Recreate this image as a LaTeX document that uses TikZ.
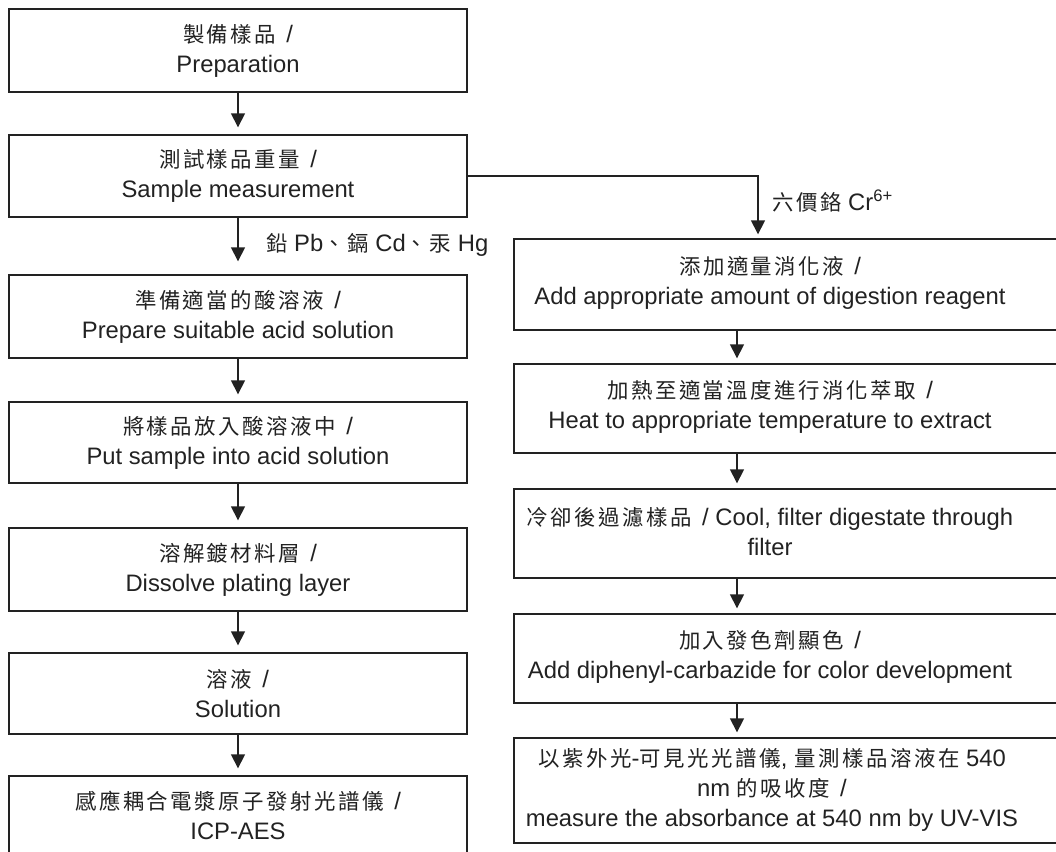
\documentclass[tikz,border=0pt]{standalone}
\usepackage{fontspec}
\setmainfont{Liberation Sans}
\newfontfamily\cjk{Noto Sans CJK TC}[Scale=0.9,LetterSpace=12]
\usetikzlibrary{arrows.meta}
\newcommand{\zh}[1]{{\cjk #1}}
\newcommand{\zsl}{\hspace{10pt}/}
\definecolor{ink}{HTML}{222222}
\begin{document}
\begin{tikzpicture}[x=1pt,y=-1pt,
 lbox/.style={draw=ink, line width=1.4pt, minimum width=458pt, inner sep=0pt, align=center, text=ink, font=\fontsize{23.8}{30}\selectfont},
 rbox/.style={draw=ink, line width=1.4pt, minimum width=550pt, inner sep=0pt},
 txt/.style={align=center, text=ink, inner sep=0pt, font=\fontsize{23.8}{30}\selectfont},
 flow/.style={draw=ink, line width=1.6pt, -{Triangle[width=14pt,length=14pt]}},
 ]
\useasboundingbox (0,0) rectangle (1056,851);
\clip (0,0) rectangle (1056,851);
\fill[white] (0,0) rectangle (1056,851);

% left column
\node[lbox, minimum height=83pt] (l1) at (238,50.5) {\zh{製備樣品}\zsl\\Preparation};
\node[lbox, minimum height=82pt] (l2) at (238,176) {\zh{測試樣品重量}\zsl\\Sample measurement};
\node[lbox, minimum height=83pt] (l3) at (238,316.5) {\zh{準備適當的酸溶液}\zsl\\Prepare suitable acid solution};
\node[lbox, minimum height=81pt] (l4) at (238,442.5) {\zh{將樣品放入酸溶液中}\zsl\\Put sample into acid solution};
\node[lbox, minimum height=83pt] (l5) at (238,569.5) {\zh{溶解鍍材料層}\zsl\\Dissolve plating layer};
\node[lbox, minimum height=81pt] (l6) at (238,693.5) {\zh{溶液}\zsl\\Solution};
\node[lbox, minimum height=86pt] (l7) at (238,819) {};
\node[txt] (l7t) at (238,815) {\zh{感應耦合電漿原子發射光譜儀}\zsl\\ICP-AES};

% right column
\node[rbox, minimum height=91pt] (r1) at (789,284.5) {};
\node[txt] (r1t) at (770,283) {\zh{添加適量消化液}\zsl\\Add appropriate amount of digestion reagent};
\node[rbox, minimum height=89pt] (r2) at (789,408.5) {};
\node[txt] (r2t) at (770,407) {\zh{加熱至適當溫度進行消化萃取}\zsl\\Heat to appropriate temperature to extract};
\node[rbox, minimum height=89pt] (r3) at (789,533.5) {};
\node[txt] (r3t) at (770,532) {\zh{冷卻後過濾樣品}\zsl{} Cool, filter digestate through\\filter};
\node[rbox, minimum height=89pt] (r4) at (789,658.5) {};
\node[txt] (r4t) at (770,657) {\zh{加入發色劑顯色}\zsl\\Add diphenyl-carbazide for color development};
\node[rbox, minimum height=105pt] (r5) at (789,790.5) {};
\node[txt] (r5t) at (772,790) {\zh{以紫外光}-\zh{可見光光譜儀}, \zh{量測樣品溶液在} 540\\nm \zh{的吸收度}\zsl\\measure the absorbance at 540 nm by UV-VIS};

% labels
\node[txt, anchor=west] (labL) at (266,245) {\zh{鉛} Pb\zh{、鎘} Cd\zh{、汞} Hg};
\node[txt, anchor=west] (labR) at (772,201) {\zh{六價鉻} Cr\textsuperscript{6+}};

% connectors
\draw[flow, shorten >=7pt] (l1.south) -- (l2.north);
\draw[flow, shorten >=13pt] (l2.south) -- (l3.north);
\draw[flow, shorten >=7pt] (l3.south) -- (l4.north);
\draw[flow, shorten >=7pt] (l4.south) -- (l5.north);
\draw[flow, shorten >=7pt] (l5.south) -- (l6.north);
\draw[flow, shorten >=7pt] (l6.south) -- (l7.north);

\coordinate (bx) at (758,0);
\coordinate (rx) at (737,0);
\draw[flow, shorten >=4pt] (l2.east) -- (l2.east -| bx) -- (r1.north -| bx);
\draw[flow, shorten >=5pt] (r1.south -| rx) -- (r2.north -| rx);
\draw[flow, shorten >=5pt] (r2.south -| rx) -- (r3.north -| rx);
\draw[flow, shorten >=5pt] (r3.south -| rx) -- (r4.north -| rx);
\draw[flow, shorten >=5pt] (r4.south -| rx) -- (r5.north -| rx);
\end{tikzpicture}
\end{document}
